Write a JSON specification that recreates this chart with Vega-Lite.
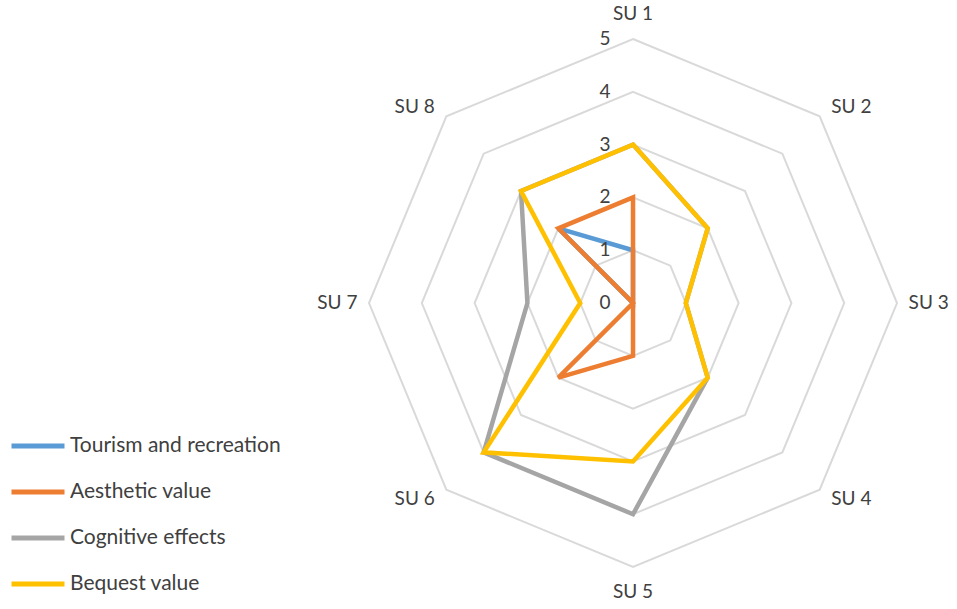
{
  "$schema": "https://vega.github.io/schema/vega-lite/v6.json",
  "width": 957,
  "height": 609,
  "autosize": {"type": "fit", "contains": "padding"},
  "padding": 0,
  "background": "white",
  "config": {"view": {"stroke": null}, "font": "Lato"},
  "datasets": {
    "series": [
      {"series": "Tourism and recreation", "axis": "SU 1", "i": 0, "value": 1},
      {"series": "Tourism and recreation", "axis": "SU 2", "i": 1, "value": 0},
      {"series": "Tourism and recreation", "axis": "SU 3", "i": 2, "value": 0},
      {"series": "Tourism and recreation", "axis": "SU 4", "i": 3, "value": 0},
      {"series": "Tourism and recreation", "axis": "SU 5", "i": 4, "value": 0},
      {"series": "Tourism and recreation", "axis": "SU 6", "i": 5, "value": 0},
      {"series": "Tourism and recreation", "axis": "SU 7", "i": 6, "value": 0},
      {"series": "Tourism and recreation", "axis": "SU 8", "i": 7, "value": 2},
      {"series": "Aesthetic value", "axis": "SU 1", "i": 0, "value": 2},
      {"series": "Aesthetic value", "axis": "SU 2", "i": 1, "value": 0},
      {"series": "Aesthetic value", "axis": "SU 3", "i": 2, "value": 0},
      {"series": "Aesthetic value", "axis": "SU 4", "i": 3, "value": 0},
      {"series": "Aesthetic value", "axis": "SU 5", "i": 4, "value": 1},
      {"series": "Aesthetic value", "axis": "SU 6", "i": 5, "value": 2},
      {"series": "Aesthetic value", "axis": "SU 7", "i": 6, "value": 0},
      {"series": "Aesthetic value", "axis": "SU 8", "i": 7, "value": 2},
      {"series": "Cognitive effects", "axis": "SU 1", "i": 0, "value": 3},
      {"series": "Cognitive effects", "axis": "SU 2", "i": 1, "value": 2},
      {"series": "Cognitive effects", "axis": "SU 3", "i": 2, "value": 1},
      {"series": "Cognitive effects", "axis": "SU 4", "i": 3, "value": 2},
      {"series": "Cognitive effects", "axis": "SU 5", "i": 4, "value": 4},
      {"series": "Cognitive effects", "axis": "SU 6", "i": 5, "value": 4},
      {"series": "Cognitive effects", "axis": "SU 7", "i": 6, "value": 2},
      {"series": "Cognitive effects", "axis": "SU 8", "i": 7, "value": 3},
      {"series": "Bequest value", "axis": "SU 1", "i": 0, "value": 3},
      {"series": "Bequest value", "axis": "SU 2", "i": 1, "value": 2},
      {"series": "Bequest value", "axis": "SU 3", "i": 2, "value": 1},
      {"series": "Bequest value", "axis": "SU 4", "i": 3, "value": 2},
      {"series": "Bequest value", "axis": "SU 5", "i": 4, "value": 3},
      {"series": "Bequest value", "axis": "SU 6", "i": 5, "value": 4},
      {"series": "Bequest value", "axis": "SU 7", "i": 6, "value": 1},
      {"series": "Bequest value", "axis": "SU 8", "i": 7, "value": 3}
    ],
    "grid": [
      {"level": 1, "i": [0, 1, 2, 3, 4, 5, 6, 7]},
      {"level": 2, "i": [0, 1, 2, 3, 4, 5, 6, 7]},
      {"level": 3, "i": [0, 1, 2, 3, 4, 5, 6, 7]},
      {"level": 4, "i": [0, 1, 2, 3, 4, 5, 6, 7]},
      {"level": 5, "i": [0, 1, 2, 3, 4, 5, 6, 7]}
    ],
    "ticks": [
      {"level": 0}, {"level": 1}, {"level": 2}, {"level": 3}, {"level": 4}, {"level": 5}
    ],
    "axes": [
      {"axis": "SU 1", "i": 0},
      {"axis": "SU 2", "i": 1},
      {"axis": "SU 3", "i": 2},
      {"axis": "SU 4", "i": 3},
      {"axis": "SU 5", "i": 4},
      {"axis": "SU 6", "i": 5},
      {"axis": "SU 7", "i": 6},
      {"axis": "SU 8", "i": 7}
    ]
  },
  "layer": [
    {
      "data": {"name": "grid"},
      "transform": [
        {"flatten": ["i"]},
        {"calculate": "datum.level * sin(datum.i * PI / 4)", "as": "x"},
        {"calculate": "datum.level * cos(datum.i * PI / 4)", "as": "y"}
      ],
      "mark": {"type": "line", "interpolate": "linear-closed", "color": "#D9D9D9", "strokeWidth": 2},
      "encoding": {
        "x": {"field": "x", "type": "quantitative", "scale": {"domain": [-11.989, 6.136], "nice": false, "zero": false}, "axis": null},
        "y": {"field": "y", "type": "quantitative", "scale": {"domain": [-5.795, 5.739], "nice": false, "zero": false}, "axis": null},
        "detail": {"field": "level", "type": "nominal"},
        "order": {"field": "i", "type": "quantitative"}
      }
    },
    {
      "data": {"name": "series"},
      "transform": [
        {"calculate": "datum.value * sin(datum.i * PI / 4)", "as": "x"},
        {"calculate": "datum.value * cos(datum.i * PI / 4)", "as": "y"}
      ],
      "encoding": {
        "x": {"field": "x", "type": "quantitative", "scale": {"domain": [-11.989, 6.136], "nice": false, "zero": false}, "axis": null},
        "y": {"field": "y", "type": "quantitative", "scale": {"domain": [-5.795, 5.739], "nice": false, "zero": false}, "axis": null},
        "order": {"field": "i", "type": "quantitative"},
        "color": {
          "field": "series",
          "type": "nominal",
          "scale": {
            "domain": ["Tourism and recreation", "Aesthetic value", "Cognitive effects", "Bequest value"],
            "range": ["#5B9BD5", "#ED7D31", "#A5A5A5", "#FFC000"]
          },
          "legend": {
            "orient": "none",
            "legendX": 9,
            "legendY": 417,
            "title": null,
            "padding": 0,
            "symbolType": "stroke",
            "symbolSize": 2809,
            "symbolStrokeWidth": 5,
            "labelFont": "Lato",
            "labelFontSize": 21,
            "labelColor": "#404040",
            "labelOffset": 3,
            "rowPadding": 7,
            "labelLimit": 400
          }
        }
      },
      "layer": [
        {"transform": [{"filter": "datum.series === 'Tourism and recreation'"}], "mark": {"type": "line", "interpolate": "linear-closed", "strokeWidth": 4.5}},
        {"transform": [{"filter": "datum.series === 'Aesthetic value'"}], "mark": {"type": "line", "interpolate": "linear-closed", "strokeWidth": 4.5}},
        {"transform": [{"filter": "datum.series === 'Cognitive effects'"}], "mark": {"type": "line", "interpolate": "linear-closed", "strokeWidth": 4.5}},
        {"transform": [{"filter": "datum.series === 'Bequest value'"}], "mark": {"type": "line", "interpolate": "linear-closed", "strokeWidth": 4.5}}
      ]
    },
    {
      "data": {"name": "ticks"},
      "mark": {"type": "text", "font": "Lato", "fontSize": 19, "color": "#404040", "align": "center", "baseline": "middle"},
      "encoding": {
        "x": {"datum": -0.53, "type": "quantitative", "scale": {"domain": [-11.989, 6.136], "nice": false, "zero": false}, "axis": null},
        "y": {"field": "level", "type": "quantitative", "scale": {"domain": [-5.795, 5.739], "nice": false, "zero": false}, "axis": null},
        "text": {"field": "level", "type": "quantitative"}
      }
    },
    {
      "data": {"name": "axes"},
      "transform": [
        {"calculate": "5 * sin(datum.i * PI / 4) + (sin(datum.i * PI / 4) > 0.1 ? 0.6 : (sin(datum.i * PI / 4) < -0.1 ? -0.6 : 0))", "as": "x"},
        {"calculate": "5 * cos(datum.i * PI / 4) + 0.48 * pow(cos(datum.i * PI / 4), 3)", "as": "y"}
      ],
      "mark": {"type": "text", "font": "Lato", "fontSize": 19, "color": "#404040", "align": "center", "baseline": "middle"},
      "encoding": {
        "x": {"field": "x", "type": "quantitative", "scale": {"domain": [-11.989, 6.136], "nice": false, "zero": false}, "axis": null},
        "y": {"field": "y", "type": "quantitative", "scale": {"domain": [-5.795, 5.739], "nice": false, "zero": false}, "axis": null},
        "text": {"field": "axis", "type": "nominal"}
      }
    }
  ]
}
